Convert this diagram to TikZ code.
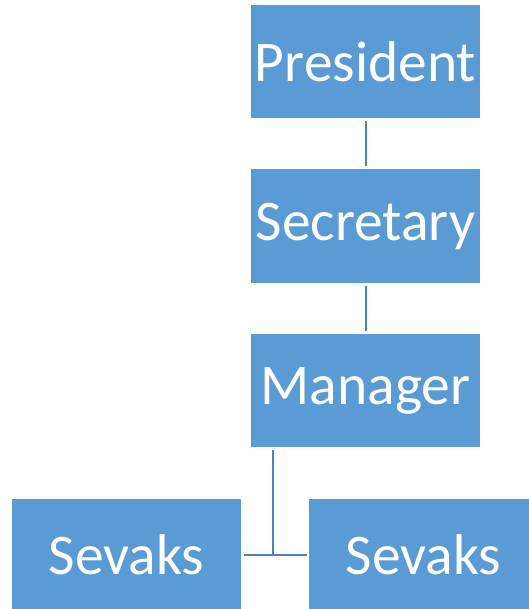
\documentclass[tikz,border=0pt]{standalone}
\usepackage{fontspec}
\setmainfont{Carlito}
\definecolor{boxblue}{HTML}{5B9BD5}
\definecolor{lineblue}{HTML}{4A82BE}
\tikzstyle{post} = [rectangle, minimum width=229pt, minimum height=113pt, inner sep=0pt, text centered, fill=boxblue, text=white, font=\fontsize{57.5}{60}\selectfont]
\tikzstyle{link} = [line width=2pt, draw=lineblue]
\begin{document}
\begin{tikzpicture}[x=1pt, y=1pt, node distance=164.5pt]
            \useasboundingbox (0,0) rectangle (528,-609);
            \node[post] (pres) at (365.5,-61.5) {President};
            \node[post, below of = pres] (sec) {Secretary};
            \node[post, below of = sec] (mgr) {Manager};
            \node[post, below of = mgr, xshift = -239pt] (sev1) {Sevaks};
            \node[post, below of = mgr, xshift = 58pt] (sev2) {Sevaks};
            \draw[link] ([yshift=-3pt]pres.south) -- ([yshift=3pt]sec.north);
            \draw[link] ([yshift=-3pt]sec.south) -- ([yshift=3pt]mgr.north);
            \coordinate (split) at ([xshift=-92.5pt, yshift=-3pt]mgr.south);
            \draw[link] (split) |- ([xshift=3pt]sev1.east);
            \draw[link] (split) |- ([xshift=-2pt]sev2.west);
        \end{tikzpicture}
\end{document}
